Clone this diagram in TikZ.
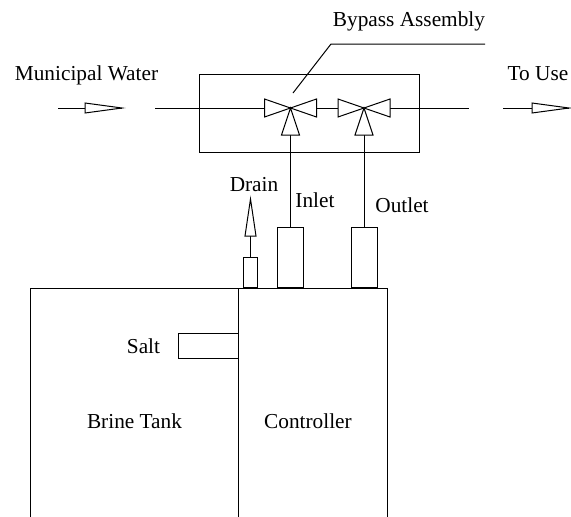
\documentclass[tikz,border=0pt]{standalone}
\usepackage{fontspec}
\setmainfont{Liberation Serif}
\tikzset{
  pipe/.style={line width=1pt},
  portbox/.style={draw, line width=1pt, inner sep=0pt, anchor=south},
  valvehalf/.style={draw, line width=1pt, fill=white, line join=miter},
  lbl/.style={inner sep=0pt, anchor=base, font=\fontsize{21.3}{24}\selectfont}
}
\begin{document}
\begin{tikzpicture}[x=1pt, y=-1pt]
\useasboundingbox (0,0) rectangle (571,517);
\coordinate (valvein) at (290.5,108);
\coordinate (valveout) at (364,108);
\coordinate (mainstart) at (155,108);
\coordinate (mainend) at (469,108);
\coordinate (inflow) at (58,108);
\coordinate (inflowtip) at (122,108);
\coordinate (useflow) at (503,108);
\coordinate (useflowtip) at (569,108);
\coordinate (draintip) at (250.5,199);
\coordinate (leaderfoot) at (293,93);
\coordinate (leaderknee) at (331,44);
\coordinate (leaderend) at (485,44);

\node[portbox, minimum width=220pt, minimum height=78pt] (bypassbox) at (309,153) {};
\node[portbox, minimum width=26pt, minimum height=60pt] (inletbox) at (290.5,288) {};
\node[portbox, minimum width=26pt, minimum height=60pt] (outletbox) at (364,288) {};
\node[portbox, minimum width=14pt, minimum height=30pt] (drainbox) at (250.5,288) {};
\node[portbox, minimum width=60pt, minimum height=25pt] (saltbox) at (208.5,359) {};

\draw[pipe] (30,517) -- (30,288) -- (387,288) -- (387,517);
\draw[pipe] (238.5,288) -- (238.5,517);

\draw[pipe] (mainstart) -- (mainend);
\draw[pipe] (inflow) -- (inflowtip);
\draw[pipe] (useflow) -- (useflowtip);
\draw[pipe] (inletbox.north) -- (valvein);
\draw[pipe] (outletbox.north) -- (valveout);
\draw[pipe] (drainbox.north) -- (draintip);
\draw[pipe] (leaderfoot) -- (leaderknee) -- (leaderend);

\foreach \v in {valvein, valveout} {
  \filldraw[valvehalf, shift={(\v)}] (-26,-9) -- (0,0) -- (-26,9) -- cycle;
  \filldraw[valvehalf, shift={(\v)}] (26,-9) -- (0,0) -- (26,9) -- cycle;
  \filldraw[valvehalf, shift={(\v)}] (-9,27) -- (0,0) -- (9,27) -- cycle;
}
\filldraw[valvehalf] (85,103) -- (inflowtip) -- (85,113) -- cycle;
\filldraw[valvehalf] (532,103) -- (useflowtip) -- (532,113) -- cycle;
\filldraw[valvehalf] (245,236) -- (draintip) -- (256,236) -- cycle;

\node[lbl] (municipal) at (86.5,80) {Municipal Water};
\node[lbl] (bypass) at (409,26) {Bypass Assembly};
\node[lbl] (touse) at (538,80) {To Use};
\node[lbl] (drain) at (254,191) {Drain};
\node[lbl] (inlet) at (315,207) {Inlet};
\node[lbl] (outlet) at (402,212) {Outlet};
\node[lbl] (salt) at (143.5,353) {Salt};
\node[lbl] (brine) at (134.5,428) {Brine Tank};
\node[lbl] (controller) at (308,428) {Controller};
\end{tikzpicture}
\end{document}
